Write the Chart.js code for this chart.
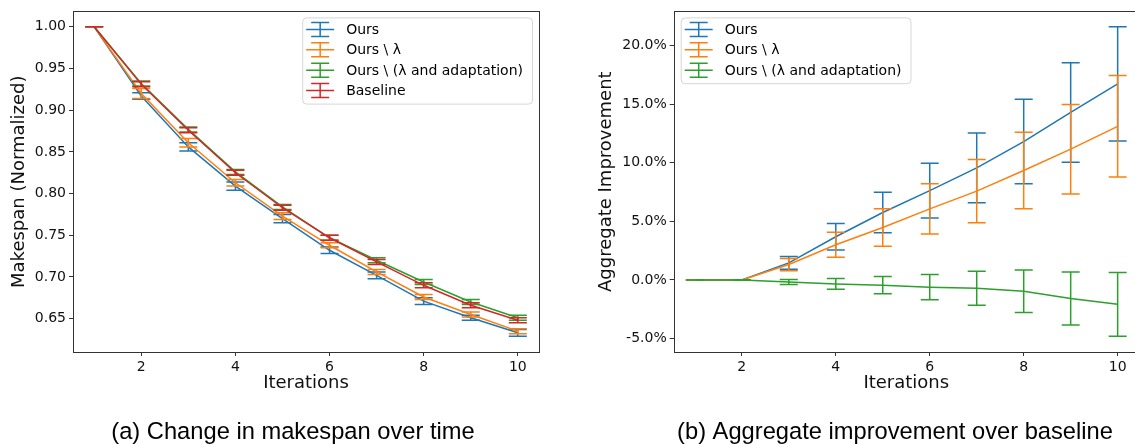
<!DOCTYPE html>
<html>
<head>
<meta charset="utf-8">
<title>Makespan / aggregate improvement</title>
<script src="https://cdn.jsdelivr.net/npm/chart.js@4.4.1/dist/chart.umd.min.js"></script>
<style>
  html, body { margin:0; padding:0; background:#fff; width:1135px; height:444px; overflow:hidden; position:relative; }
  canvas { position:absolute; top:0; }
  #c-makespan { left:0; }
  #c-improve { left:580px; }
</style>
</head>
<body>
<canvas id="c-makespan" width="560" height="444"></canvas>
<canvas id="c-improve" width="570" height="444"></canvas>
<script>
/* ---- datos ---- */
const iterations = [1, 2, 3, 4, 5, 6, 7, 8, 9, 10];
const xTicks = [2, 4, 6, 8, 10];

// (a) makespan normalizado
const makespanOurs       = [1.0, 0.917, 0.856, 0.809, 0.770, 0.732, 0.702, 0.671, 0.651, 0.633];
const makespanOursErr    = [0, 0.004, 0.005, 0.005, 0.005, 0.004, 0.004, 0.004, 0.003, 0.004];
const makespanNoLam      = [1.0, 0.920, 0.861, 0.813, 0.773, 0.738, 0.706, 0.676, 0.655, 0.635];
const makespanNoLamErr   = [0, 0.006, 0.005, 0.004, 0.004, 0.003, 0.003, 0.003, 0.003, 0.003];
const makespanNoAdapt    = [1.0, 0.932, 0.877, 0.826, 0.784, 0.747, 0.720, 0.694, 0.670, 0.651];
const makespanNoAdaptErr = [0, 0.003, 0.003, 0.003, 0.003, 0.003, 0.003, 0.003, 0.003, 0.003];
const makespanBase       = [1.0, 0.931, 0.876, 0.825, 0.783, 0.747, 0.718, 0.690, 0.666, 0.648];
const makespanBaseErr    = [0, 0.003, 0.003, 0.003, 0.003, 0.003, 0.003, 0.003, 0.003, 0.003];
const makespanTicks = [0.65, 0.70, 0.75, 0.80, 0.85, 0.90, 0.95, 1.00];

// (b) mejora agregada (%)
const improveOurs       = [0, 0, 1.45, 3.68, 5.75, 7.61, 9.55, 11.8, 14.28, 16.72];
const improveOursErr    = [0, 0, 0.55, 1.14, 1.72, 2.34, 2.98, 3.6, 4.25, 4.88];
const improveNoLam      = [0, 0, 1.31, 3.0, 4.47, 6.06, 7.57, 9.33, 11.15, 13.1];
const improveNoLamErr   = [0, 0, 0.52, 1.07, 1.59, 2.14, 2.7, 3.27, 3.82, 4.33];
const improveNoAdapt    = [0, 0, -0.18, -0.34, -0.45, -0.62, -0.72, -0.97, -1.58, -2.08];
const improveNoAdaptErr = [0, 0.02, 0.21, 0.45, 0.73, 1.07, 1.45, 1.82, 2.26, 2.72];
const improveTicks = [-5, 0, 5, 10, 15, 20];

const C_BLUE = '#1f77b4', C_ORANGE = '#ff7f0e', C_GREEN = '#2ca02c', C_RED = '#d62728';
const FONT = 'DejaVu Sans';

/* ---- barras de error ---- */
const errorBars = {
  id: 'errorBars',
  afterDatasetDraw(chart, args) {
    const ds = chart.data.datasets[args.index];
    if (!ds.errors) return;
    const ctx = chart.ctx, ys = chart.scales.y;
    ctx.save();
    ctx.strokeStyle = ds.borderColor;
    ctx.lineWidth = 1.5;
    args.meta.data.forEach((pt, i) => {
      const v = ds.data[i].y, e = ds.errors[i];
      const top = ys.getPixelForValue(v + e), bot = ys.getPixelForValue(v - e);
      ctx.beginPath();
      ctx.moveTo(pt.x, top); ctx.lineTo(pt.x, bot);
      ctx.moveTo(pt.x - 9, top); ctx.lineTo(pt.x + 9, top);
      ctx.moveTo(pt.x - 9, bot); ctx.lineTo(pt.x + 9, bot);
      ctx.stroke();
    });
    ctx.restore();
  }
};

/* ---- marco, leyenda y pie ---- */
const decor = {
  id: 'decor',
  afterDraw(chart, args, opts) {
    const ctx = chart.ctx, a = chart.chartArea;
    const sets = chart.data.datasets;
    ctx.save();
    // marco
    ctx.strokeStyle = '#333';
    ctx.lineWidth = 1;
    ctx.strokeRect(Math.round(a.left) + 0.5, Math.round(a.top) + 0.5,
                   Math.round(a.right - a.left), Math.round(a.bottom - a.top));

    // leyenda
    ctx.font = '14px "' + FONT + '"';
    const tw = Math.max(...sets.map(d => ctx.measureText(d.label).width));
    const w = 44 + tw + 9;
    const h = 25 + 20.4 * (sets.length - 1);
    const x0 = opts.legend === 'right' ? a.right - 7 - w : a.left + 7;
    const y0 = a.top + 6;
    ctx.beginPath();
    ctx.roundRect(x0 + 0.5, y0 + 0.5, w, h, 4);
    ctx.fillStyle = 'rgba(255,255,255,0.8)';
    ctx.fill();
    ctx.strokeStyle = 'rgba(204,204,204,0.8)';
    ctx.stroke();
    sets.forEach((d, i) => {
      const cy = y0 + 12 + 20.4 * i, cx = x0 + 18;
      ctx.strokeStyle = d.borderColor;
      ctx.lineWidth = 1.5;
      ctx.beginPath();
      ctx.moveTo(x0 + 4, cy); ctx.lineTo(x0 + 32, cy);
      ctx.moveTo(cx, cy - 7); ctx.lineTo(cx, cy + 7);
      ctx.moveTo(cx - 9, cy - 7); ctx.lineTo(cx + 9, cy - 7);
      ctx.moveTo(cx - 9, cy + 7); ctx.lineTo(cx + 9, cy + 7);
      ctx.stroke();
      ctx.fillStyle = '#000';
      ctx.textAlign = 'left';
      ctx.textBaseline = 'middle';
      ctx.fillText(d.label, x0 + 44, cy + 1);
    });

    // pie de figura
    ctx.font = '23.7px "Liberation Sans"';
    ctx.fillStyle = '#000';
    ctx.textAlign = 'center';
    ctx.textBaseline = 'alphabetic';
    ctx.fillText(opts.caption, opts.captionX, 439);
    ctx.restore();
  }
};

function series(label, color, vals, errs, i, n) {
  return {
    label, borderColor: color, backgroundColor: color,
    data: iterations.map((x, k) => ({ x, y: vals[k] })),
    errors: errs,
    borderWidth: 1.5, pointRadius: 0, tension: 0, fill: false,
    order: n - 1 - i
  };
}

function makeScales(yMin, yMax, yTicks, fmt, yTitle, yWidth, yTitlePad) {
  const tickFont = { family: FONT, size: 14 };
  const titleFont = { family: FONT, size: 18 };
  const grid = { drawOnChartArea: false, tickLength: 4, tickColor: '#333', tickWidth: 1 };
  return {
    x: {
      type: 'linear', min: 0.55, max: 10.45,
      afterBuildTicks: s => { s.ticks = xTicks.map(v => ({ value: v })); },
      afterFit: s => { s.height = 48; },
      grid, border: { display: false },
      ticks: { font: tickFont, color: '#111', padding: 3, maxRotation: 0, autoSkip: false },
      title: { display: true, text: 'Iterations', font: titleFont, color: '#111', padding: { top: 0, bottom: 6 } }
    },
    y: {
      type: 'linear', min: yMin, max: yMax,
      afterBuildTicks: s => { s.ticks = yTicks.map(v => ({ value: v })); },
      afterFit: s => { s.width = yWidth; },
      grid, border: { display: false },
      ticks: { font: tickFont, color: '#111', padding: 3, callback: fmt },
      title: { display: true, text: yTitle, font: titleFont, color: '#111', padding: { top: yTitlePad, bottom: 0 } }
    }
  };
}

const baseOpts = {
  responsive: false, animation: false, devicePixelRatio: 1,
  plugins: { legend: { display: false }, tooltip: { enabled: false } }
};

/* ---- (a) ---- */
const setsA = [
  ['Ours', C_BLUE, makespanOurs, makespanOursErr],
  ['Ours \\ \u03bb', C_ORANGE, makespanNoLam, makespanNoLamErr],
  ['Ours \\ (\u03bb and adaptation)', C_GREEN, makespanNoAdapt, makespanNoAdaptErr],
  ['Baseline', C_RED, makespanBase, makespanBaseErr]
];
new Chart(document.getElementById('c-makespan'), {
  type: 'line',
  data: { datasets: setsA.map((s, i) => series(s[0], s[1], s[2], s[3], i, setsA.length)) },
  options: {
    ...baseOpts,
    layout: { padding: { left: 0, top: 9, right: 21, bottom: 44 } },
    scales: makeScales(0.610, 1.0185, makespanTicks, v => v.toFixed(2), 'Makespan (Normalized)', 73, 9),
    plugins: { ...baseOpts.plugins, decor: { legend: 'right', caption: '(a) Change in makespan over time', captionX: 293 } }
  },
  plugins: [errorBars, decor]
});

/* ---- (b) ---- */
const setsB = [
  ['Ours', C_BLUE, improveOurs, improveOursErr],
  ['Ours \\ \u03bb', C_ORANGE, improveNoLam, improveNoLamErr],
  ['Ours \\ (\u03bb and adaptation)', C_GREEN, improveNoAdapt, improveNoAdaptErr]
];
new Chart(document.getElementById('c-improve'), {
  type: 'line',
  data: { datasets: setsB.map((s, i) => series(s[0], s[1], s[2], s[3], i, setsB.length)) },
  options: {
    ...baseOpts,
    layout: { padding: { left: 0, top: 9, right: 11.2, bottom: 44 } },
    scales: makeScales(-6.15, 22.9, improveTicks, v => v.toFixed(1) + '%', 'Aggregate Improvement', 93.7, 16),
    plugins: { ...baseOpts.plugins, decor: { legend: 'left', caption: '(b) Aggregate improvement over baseline', captionX: 315 } }
  },
  plugins: [errorBars, decor]
});
</script>
</body>
</html>
